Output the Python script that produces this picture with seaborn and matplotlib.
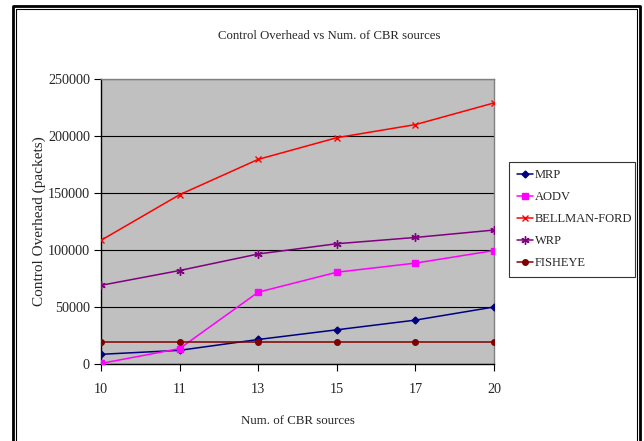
import matplotlib
matplotlib.use("Agg")
import matplotlib.pyplot as plt
import seaborn as sns
import pandas as pd
from matplotlib.lines import Line2D

sources = ["10", "11", "13", "15", "17", "20"]
mrp = [8500, 12000, 21500, 30000, 38500, 50000]
aodv = [500, 13500, 63000, 80500, 88500, 99500]
bellman = [108500, 148500, 179500, 198500, 210000, 229000]
wrp = [69000, 82000, 96500, 105500, 111000, 117500]
fisheye = [19000, 19000, 19000, 19000, 19000, 19000]

series = ["MRP", "AODV", "BELLMAN-FORD", "WRP", "FISHEYE"]
values = [mrp, aodv, bellman, wrp, fisheye]
colors = ["#000080", "#FF00FF", "#FF0000", "#800080", "#800000"]
markers = ["D", "s", "x", (6, 2, 0), "o"]
msizes = [3.5, 4.5, 5, 6, 4]

rows = []
for name, vals in zip(series, values):
    for i, v in enumerate(vals):
        rows.append({"pos": i, "value": v, "series": name})
df = pd.DataFrame(rows)

sns.set_theme(style="white")
plt.rcParams["font.family"] = ["Liberation Serif", "DejaVu Serif"]

fig = plt.figure(figsize=(6.44, 4.41), dpi=100)
ax = fig.add_axes([101/644, 1-364/441, (494-101)/644, (364-79)/441])
ax.set_facecolor("#C0C0C0")

for name, c, m, ms in zip(series, colors, markers, msizes):
    sub = df[df["series"] == name]
    sns.lineplot(data=sub, x="pos", y="value", ax=ax, color=c, marker=m,
                 markersize=ms, linewidth=1.1, markeredgecolor=c,
                 markeredgewidth=1.0, label=name, zorder=3)

ax.set_xlim(0, len(sources) - 1)
ax.set_ylim(0, 250000)
ax.set_xticks(range(len(sources)))
ax.set_xticklabels(sources)
ax.set_yticks(range(0, 250001, 50000))
ax.yaxis.grid(True, color="#000000", linewidth=0.8)
ax.set_axisbelow(True)
ax.tick_params(axis="both", which="both", direction="out", length=5,
               width=0.8, color="black", labelsize=10.2,
               bottom=True, left=True)
ax.tick_params(axis="x", pad=9)
ax.tick_params(axis="y", pad=3)
for s in ["left", "bottom"]:
    ax.spines[s].set_color("black")
    ax.spines[s].set_linewidth(1.0)
for s in ["top", "right"]:
    ax.spines[s].set_color("#808080")
    ax.spines[s].set_linewidth(1.0)

ax.set_xlabel("Num. of CBR sources", fontsize=9.3, labelpad=13)
ax.set_ylabel("Control Overhead (packets)", fontsize=11, labelpad=1)
fig.text(329/644, 1-36/441, "Control Overhead vs Num. of CBR sources",
         ha="center", va="center", fontsize=9.2)

leg = ax.legend(loc="lower left", bbox_to_anchor=(509/644, 1-277/441, 126/644, 112/441),
                bbox_transform=fig.transFigure, mode="expand", frameon=True,
                fancybox=False, edgecolor="black", fontsize=9.0,
                handlelength=1.3, handletextpad=0.15, borderaxespad=0,
                labelspacing=0.8, borderpad=0.6)
leg.get_frame().set_linewidth(0.8)

# double page frame (left, top, right)
W, H = 644, 441
def fl(xs, ys, lw):
    fig.add_artist(Line2D([x/W for x in xs], [1-y/H for y in ys], color="black",
                          linewidth=lw, transform=fig.transFigure))
fl([13, 13, 640, 640], [441, 5.5, 5.5, 441], 2.0)
fl([16, 16, 637, 637], [441, 8.5, 8.5, 441], 0.8)

fig.savefig("out.png", dpi=100)
